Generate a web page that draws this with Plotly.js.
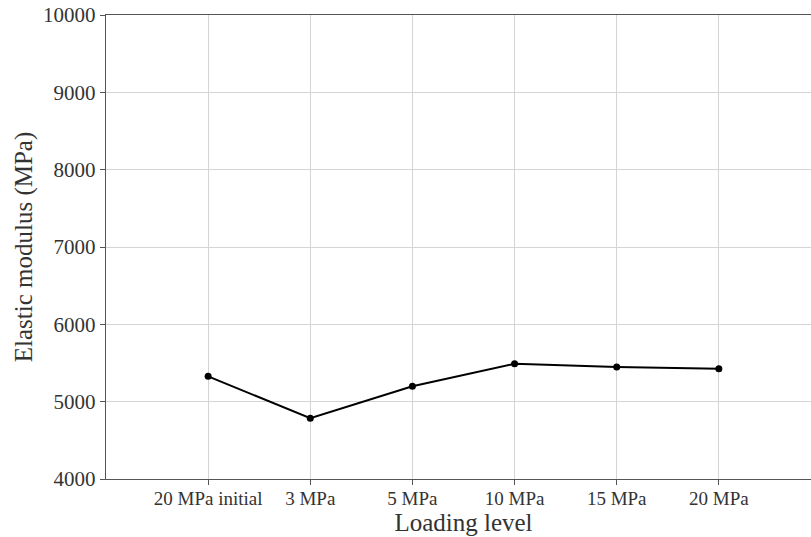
<!DOCTYPE html>
<html><head><meta charset="utf-8">
<script src="https://cdn.plot.ly/plotly-3.0.1.min.js"></script>
<style>html,body{margin:0;padding:0;overflow:hidden;background:#fff;width:811px;height:537px}</style>
</head><body><div id="chart" style="width:822px;height:537px"></div>
<script>
const categories = ["20 MPa initial", "3 MPa", "5 MPa", "10 MPa", "15 MPa", "20 MPa"];
const modulus = [5328, 4785, 5199, 5491, 5448, 5426];
const yTicks = [4000, 5000, 6000, 7000, 8000, 9000, 10000];
const yTickText = ["4000", "5000", "6000", "7000", "8000", "9000", "10000"];

const xIdx = categories.map((_, i) => i);
const fontFam = "Liberation Serif";

Plotly.newPlot("chart", [{
  x: xIdx, y: modulus, type: "scatter", mode: "lines+markers",
  line: {color: "#000", width: 2}, marker: {color: "#000", size: 7},
  showlegend: false
}], {
  width: 822, height: 537,
  margin: {l: 106, r: 1, t: 15, b: 58},
  paper_bgcolor: "#fff", plot_bgcolor: "#fff",
  font: {family: fontFam, color: "#333"},
  xaxis: {
    range: [-1, 6], tickmode: "array", tickvals: xIdx, ticktext: categories,
    showgrid: true, gridcolor: "#d4d4d4", gridwidth: 1, zeroline: false,
    showline: true, linecolor: "#555", linewidth: 1.3, mirror: true,
    ticks: "outside", ticklen: 5, tickcolor: "#555", ticklabelstandoff: -3,
    tickfont: {size: 19, family: fontFam, color: "#333"},
    title: {text: "Loading level", font: {size: 25, family: fontFam, color: "#333"}, standoff: 4}
  },
  yaxis: {
    range: [4000, 10000], tickmode: "array", tickvals: yTicks, ticktext: yTickText,
    showgrid: true, gridcolor: "#d4d4d4", gridwidth: 1, zeroline: false,
    showline: true, linecolor: "#555", linewidth: 1.3, mirror: true,
    ticks: "outside", ticklen: 5, tickcolor: "#555",
    tickfont: {size: 21, family: fontFam, color: "#333"},
    title: {text: "Elastic modulus (MPa)", font: {size: 25, family: fontFam, color: "#333"}, standoff: 3}
  }
}, {displayModeBar: false, staticPlot: true});
</script></body></html>
